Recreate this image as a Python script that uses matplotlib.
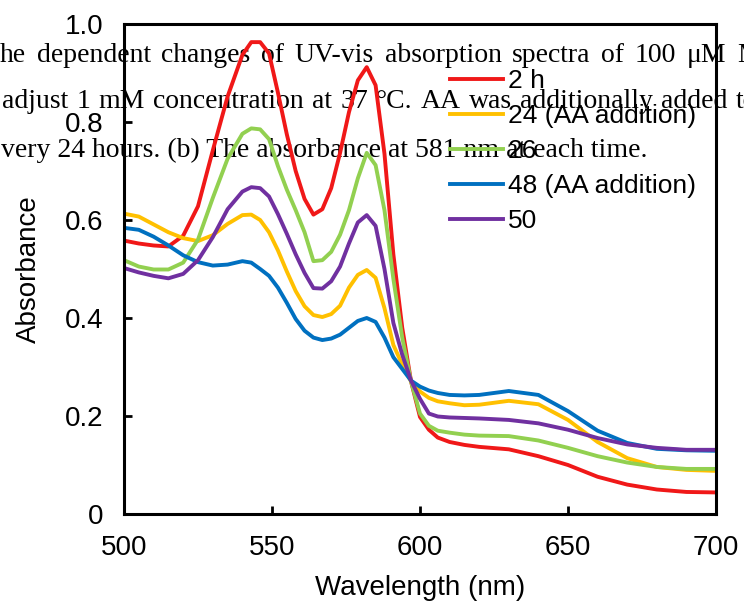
import numpy as np
import matplotlib
matplotlib.use('Agg')
import matplotlib.pyplot as plt

wl = [500, 505, 510, 515, 520, 525, 530, 535, 540, 543, 546, 549, 552, 555,
      558, 561, 564, 567, 570, 573, 576, 579, 582, 585, 588, 591, 594, 597,
      600, 603, 606, 610, 615, 620, 630, 640, 650, 660, 670, 680, 690, 700]

abs_2h = [0.558, 0.552, 0.548, 0.546, 0.568, 0.628, 0.742, 0.852, 0.937, 0.963,
          0.963, 0.940, 0.860, 0.775, 0.700, 0.643, 0.611, 0.622, 0.665, 0.737,
          0.820, 0.885, 0.912, 0.875, 0.735, 0.530, 0.380, 0.270, 0.198, 0.172,
          0.156, 0.147, 0.141, 0.137, 0.132, 0.118, 0.100, 0.076, 0.060, 0.050,
          0.045, 0.044]
abs_24 = [0.613, 0.607, 0.591, 0.575, 0.563, 0.557, 0.569, 0.592, 0.610, 0.611,
          0.600, 0.575, 0.538, 0.495, 0.455, 0.424, 0.406, 0.402, 0.408, 0.425,
          0.462, 0.488, 0.498, 0.482, 0.420, 0.345, 0.305, 0.270, 0.250, 0.237,
          0.230, 0.226, 0.222, 0.223, 0.231, 0.224, 0.192, 0.147, 0.114, 0.096,
          0.090, 0.088]
abs_26 = [0.518, 0.505, 0.499, 0.499, 0.513, 0.560, 0.645, 0.725, 0.776, 0.787,
          0.785, 0.765, 0.710, 0.662, 0.620, 0.575, 0.516, 0.518, 0.535, 0.570,
          0.620, 0.685, 0.737, 0.712, 0.620, 0.480, 0.360, 0.270, 0.205, 0.180,
          0.170, 0.166, 0.162, 0.160, 0.159, 0.150, 0.135, 0.118, 0.105, 0.096,
          0.092, 0.092]
abs_48 = [0.584, 0.580, 0.566, 0.548, 0.528, 0.514, 0.507, 0.509, 0.516, 0.513,
          0.500, 0.486, 0.462, 0.431, 0.398, 0.374, 0.360, 0.355, 0.358, 0.366,
          0.380, 0.394, 0.400, 0.392, 0.360, 0.320, 0.296, 0.272, 0.260, 0.252,
          0.247, 0.243, 0.242, 0.243, 0.251, 0.243, 0.210, 0.170, 0.145, 0.133,
          0.130, 0.129]
abs_50 = [0.502, 0.493, 0.486, 0.481, 0.490, 0.518, 0.565, 0.622, 0.658, 0.667,
          0.665, 0.648, 0.612, 0.572, 0.530, 0.492, 0.461, 0.460, 0.475, 0.505,
          0.552, 0.595, 0.610, 0.588, 0.500, 0.390, 0.325, 0.272, 0.235, 0.205,
          0.199, 0.197, 0.196, 0.195, 0.192, 0.185, 0.172, 0.155, 0.142, 0.135,
          0.131, 0.131]

labels = ['2 h', '24 (AA addition)', '26', '48 (AA addition)', '50']
colors = ['#F01818', '#FFC000', '#92D050', '#0070C0', '#7030A0']

xticks = [500, 550, 600, 650, 700]
yticks = [0, 0.2, 0.4, 0.6, 0.8, 1.0]
ytick_labels = ['0', '0.2', '0.4', '0.6', '0.8', '1.0']

# caption text bleeding through behind the chart
cap1 = 'he dependent changes of UV-vis absorption spectra of 100 \u03bcM M'
cap2 = 'adjust 1 mM concentration at 37 \u00b0C. AA was additionally added to'
cap3 = 'very 24 hours. (b) The absorbance at 581 nm at each time.'

plt.rcParams['font.family'] = ['Liberation Sans', 'DejaVu Sans']

W, H = 744, 610
fig = plt.figure(figsize=(W / 100, H / 100), dpi=100)
ax = fig.add_axes([124 / W, 1 - 514 / H, (716 - 124) / W, (514 - 24) / H])
ax.set_facecolor('none')

serif = ['Liberation Serif', 'DejaVu Serif']
renderer = fig.canvas.get_renderer()


## spread the words of a justified line between first and last word start
def justified(text, x0, xlast, base):
    words = text.split(' ')
    arts = [fig.text(0, 1 - base / H, w, fontsize=20, family=serif,
                     ha='left', va='baseline', zorder=-1) for w in words]
    widths = [a.get_window_extent(renderer).width for a in arts]
    gap = (xlast - x0 - sum(widths[:-1])) / (len(words) - 1)
    x = x0
    for a, wd in zip(arts, widths):
        a.set_x(x / W)
        x += wd + gap


justified(cap1, 0, 737, 62)
justified(cap2, 2, 736, 108)
fig.text(1 / W, 1 - 157 / H, cap3, fontsize=20, family=serif,
         ha='left', va='baseline', zorder=-1)

series = [abs_2h, abs_24, abs_26, abs_48, abs_50]
for vals, lab, col in zip(series, labels, colors):
    ax.plot(wl, vals, color=col, lw=2.8, label=lab, solid_joinstyle='round')

ax.set_xlim(500, 700)
ax.set_ylim(0, 1.0)
ax.set_xticks(xticks)
ax.set_yticks(yticks)
ax.set_yticklabels(ytick_labels)
ax.tick_params(direction='in', length=6, width=2, labelsize=20, pad=15,
               top=False, right=False)
for sp in ax.spines.values():
    sp.set_linewidth(2.2)

ax.set_xlabel('Wavelength (nm)', fontsize=20, labelpad=10)
ax.set_ylabel('Absorbance', fontsize=20, labelpad=16)

leg = ax.legend(loc='upper left', bbox_to_anchor=(450 / W, 1 - 69 / H),
                bbox_transform=fig.transFigure, frameon=False, fontsize=19,
                handlelength=2.0, handletextpad=0.2, labelspacing=0.42,
                borderpad=0, borderaxespad=0)

fig.savefig('out.png', dpi=100)
